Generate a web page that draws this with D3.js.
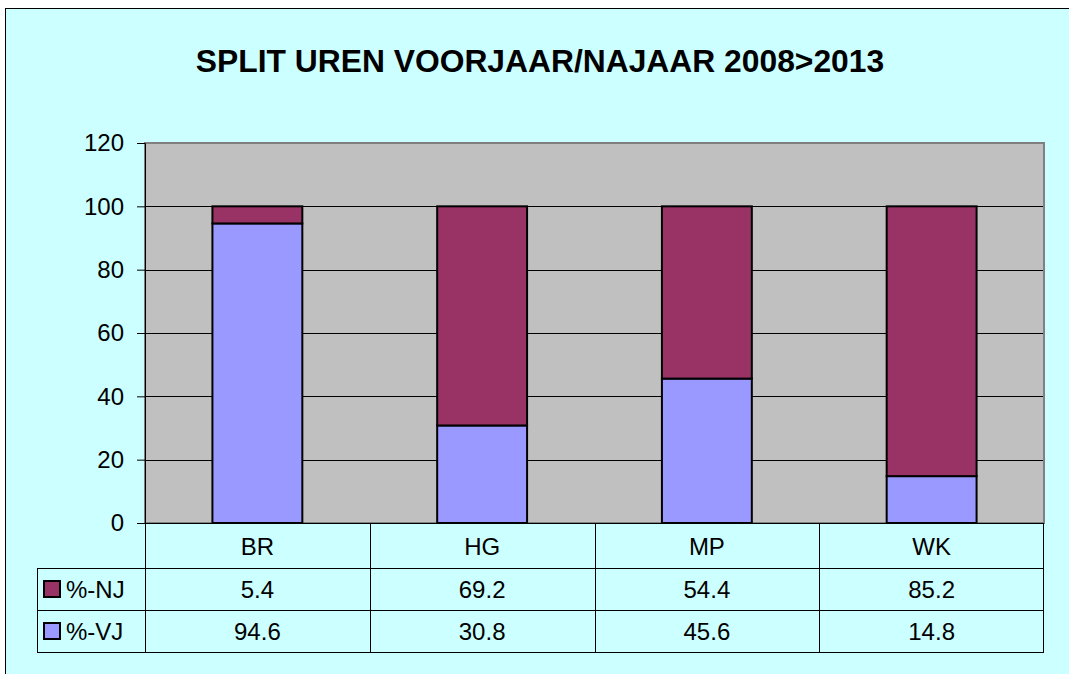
<!DOCTYPE html>
<html>
<head>
<meta charset="utf-8">
<script src="https://cdn.jsdelivr.net/npm/d3@7"></script>
<style>
  body { margin: 0; background: #fff; }
  svg { display: block; font-family: "Liberation Sans", Arial, sans-serif; }
</style>
</head>
<body>
<div id="chart"></div>
<script>
// data
const categorieen = ["BR", "HG", "MP", "WK"];
const reeksNamen = ["%-NJ", "%-VJ"];
const najaar = [5.4, 69.2, 54.4, 85.2];
const voorjaar = [94.6, 30.8, 45.6, 14.8];
const yTicks = [0, 20, 40, 60, 80, 100, 120];
const kleuren = { "%-NJ": "#993366", "%-VJ": "#9999FF" };

const width = 1069, height = 674;
const plot = { left: 145, right: 1044, top: 143, bottom: 523 };
const fs = 24;

const svg = d3.select("#chart").append("svg")
  .attr("width", width)
  .attr("height", height);

// outer frame
svg.append("rect")
  .attr("x", 5.5).attr("y", 8.5)
  .attr("width", width + 10).attr("height", height + 10)
  .attr("fill", "#CCFFFF")
  .attr("stroke", "#000").attr("stroke-width", 1);

svg.append("text")
  .attr("x", 540).attr("y", 72)
  .attr("text-anchor", "middle")
  .attr("font-size", 31.8).attr("font-weight", "bold")
  .text("SPLIT UREN VOORJAAR/NAJAAR 2008>2013");

const x = d3.scaleBand().domain(categorieen).range([plot.left, plot.right]);
const y = d3.scaleLinear().domain([0, 120]).range([plot.bottom, plot.top]);

// plot area
svg.append("rect")
  .attr("x", plot.left).attr("y", plot.top)
  .attr("width", plot.right - plot.left).attr("height", plot.bottom - plot.top)
  .attr("fill", "#C0C0C0");

// gridlines
svg.append("g").selectAll("line")
  .data(yTicks.filter(t => t > 0 && t < 120))
  .enter().append("line")
  .attr("x1", plot.left).attr("x2", plot.right)
  .attr("y1", d => Math.round(y(d)) + 0.5).attr("y2", d => Math.round(y(d)) + 0.5)
  .attr("stroke", "#000").attr("stroke-width", 1);

// plot border
svg.append("rect")
  .attr("x", plot.left).attr("y", plot.top)
  .attr("width", plot.right - plot.left).attr("height", plot.bottom - plot.top)
  .attr("fill", "none")
  .attr("stroke", "#808080").attr("stroke-width", 2);

// stacked bars
const rijen = categorieen.map((c, i) => ({ cat: c, "%-VJ": voorjaar[i], "%-NJ": najaar[i] }));
const stack = d3.stack().keys(["%-VJ", "%-NJ"])(rijen);
const barW = x.bandwidth() * 0.4;

svg.append("g").selectAll("g")
  .data(stack)
  .enter().append("g")
  .attr("fill", d => kleuren[d.key])
  .selectAll("rect")
  .data(d => d)
  .enter().append("rect")
  .attr("x", d => x(d.data.cat) + (x.bandwidth() - barW) / 2)
  .attr("y", d => y(d[1]))
  .attr("width", barW)
  .attr("height", d => y(d[0]) - y(d[1]))
  .attr("stroke", "#000").attr("stroke-width", 2);

// y axis
const yAxis = d3.axisLeft(y).tickValues(yTicks).tickSize(8).tickPadding(13);
const ga = svg.append("g")
  .attr("transform", `translate(${plot.left},0)`)
  .call(yAxis);
ga.select(".domain").attr("stroke", "#000").attr("stroke-width", 1);
ga.selectAll(".tick line").attr("stroke", "#000");
ga.selectAll(".tick text")
  .attr("font-size", fs).attr("fill", "#000")
  .style("font-family", "Liberation Sans, Arial, sans-serif");

// zero line
svg.append("line")
  .attr("x1", plot.left - 8).attr("x2", plot.right)
  .attr("y1", y(0) + 0.5).attr("y2", y(0) + 0.5)
  .attr("stroke", "#000");

// data table
const rij1 = 568, rij2 = 610, rij3 = 652;
const legLeft = 37;
const tabel = svg.append("g").attr("stroke", "#000").attr("stroke-width", 1);

// vertical lines between categories
x.domain().forEach(c => {
  tabel.append("line")
    .attr("x1", Math.round(x(c)) + 0.5).attr("x2", Math.round(x(c)) + 0.5)
    .attr("y1", plot.bottom).attr("y2", rij3);
});
tabel.append("line")
  .attr("x1", plot.right - 0.5).attr("x2", plot.right - 0.5)
  .attr("y1", plot.bottom).attr("y2", rij3);
tabel.append("line")
  .attr("x1", legLeft + 0.5).attr("x2", legLeft + 0.5)
  .attr("y1", rij1).attr("y2", rij3);
[rij1, rij2, rij3].forEach(r => {
  tabel.append("line")
    .attr("x1", legLeft).attr("x2", plot.right)
    .attr("y1", r + 0.5).attr("y2", r + 0.5);
});

// header labels
svg.append("g").selectAll("text")
  .data(categorieen)
  .enter().append("text")
  .attr("x", d => x(d) + x.bandwidth() / 2)
  .attr("y", (plot.bottom + rij1) / 2 + 9)
  .attr("text-anchor", "middle")
  .attr("font-size", fs)
  .text(d => d);

// value rows
const reeksen = [
  { naam: "%-NJ", waarden: najaar, top: rij1, bottom: rij2 },
  { naam: "%-VJ", waarden: voorjaar, top: rij2, bottom: rij3 }
];

reeksen.forEach(s => {
  const midden = (s.top + s.bottom) / 2;
  svg.append("rect")
    .attr("x", 44).attr("y", midden - 8)
    .attr("width", 16).attr("height", 16)
    .attr("fill", kleuren[s.naam])
    .attr("stroke", "#000").attr("stroke-width", 2);
  svg.append("text")
    .attr("x", 66).attr("y", midden + 9)
    .attr("font-size", fs)
    .text(s.naam);
  svg.append("g").selectAll("text")
    .data(s.waarden)
    .enter().append("text")
    .attr("x", (d, i) => x(categorieen[i]) + x.bandwidth() / 2)
    .attr("y", midden + 9)
    .attr("text-anchor", "middle")
    .attr("font-size", fs)
    .text(d => d.toFixed(1));
});
</script>
</body>
</html>
